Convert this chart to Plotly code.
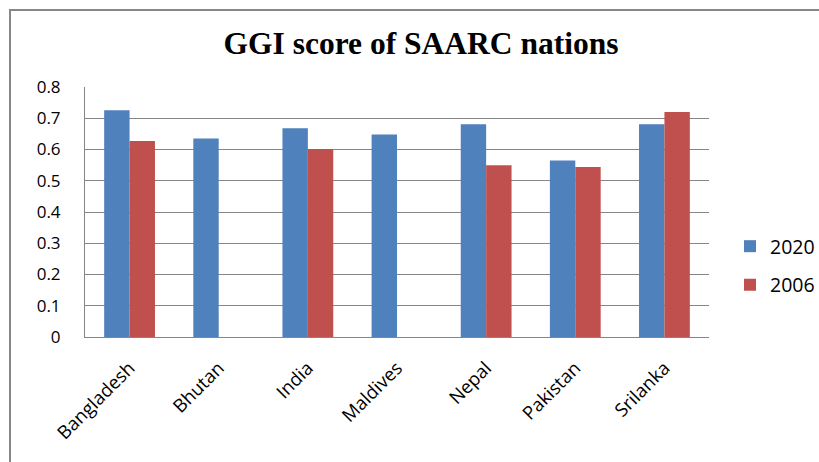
import plotly.graph_objects as go

countries = ["Bangladesh", "Bhutan", "India", "Maldives", "Nepal", "Pakistan", "Srilanka"]
score_2020 = [0.726, 0.635, 0.668, 0.648, 0.681, 0.565, 0.681]
score_2006 = [0.627, None, 0.602, None, 0.550, 0.544, 0.720]
y_ticks = [0, 0.1, 0.2, 0.3, 0.4, 0.5, 0.6, 0.7, 0.8]
y_tick_labels = ["0", "0.1", "0.2", "0.3", "0.4", "0.5", "0.6", "0.7", "0.8"]

BLUE = "#4F81BD"
RED = "#C0504D"
GRID = "#868686"
YFONT = dict(family="Open Sans", size=17, color="#000000")
XFONT = dict(family="Open Sans", size=18.5, color="#000000")
LEGFONT = dict(family="Open Sans", size=19.5, color="#000000")

fig = go.Figure()
fig.add_trace(go.Bar(x=countries, y=score_2020, name="2020", showlegend=True,
                     marker=dict(color=BLUE, line=dict(width=0)), legend="legend"))
fig.add_trace(go.Bar(x=countries, y=score_2006, name="2006", showlegend=True,
                     marker=dict(color=RED, line=dict(width=0)), legend="legend2"))

W, H = 819, 462
L, R, T, B = 85, 110, 87, 125
pw, ph = W - L - R, H - T - B

def px_x(p):
    return (p - L) / pw

def px_y(p):
    return (H - B - p) / ph

fig.update_layout(
    width=W, height=H,
    showlegend=True,
    margin=dict(l=L, r=R, t=T, b=B, autoexpand=False),
    paper_bgcolor="white", plot_bgcolor="white",
    barmode="group", bargap=0.43, bargroupgap=0,
    title=dict(text="<b>GGI score of SAARC nations</b>",
               font=dict(family="Liberation Serif", size=31.5, color="#000000"),
               x=421 / W, xanchor="center", xref="container",
               y=1 - 43 / H, yanchor="middle", yref="container"),
    legend=dict(x=px_x(730), y=px_y(246.5), xanchor="left", yanchor="middle",
                font=LEGFONT, bgcolor="rgba(0,0,0,0)", visible=True),
    legend2=dict(x=px_x(730), y=px_y(285), xanchor="left", yanchor="middle",
                 font=LEGFONT, bgcolor="rgba(0,0,0,0)", visible=True),
    xaxis=dict(showline=True, linecolor=GRID, linewidth=1, tickangle=-45,
               tickfont=XFONT, ticks="", showgrid=False, ticklabelstandoff=12,
               automargin=False),
    yaxis=dict(range=[0, 0.8], tickvals=y_ticks, ticktext=y_tick_labels,
               showline=True, linecolor=GRID, linewidth=1,
               showgrid=True, gridcolor=GRID, gridwidth=1, zeroline=False,
               tickfont=YFONT, ticks="", ticklabelstandoff=20, automargin=False),
    shapes=[dict(type="rect", xref="paper", yref="paper",
                 x0=px_x(10), y0=px_y(10), x1=px_x(900), y1=px_y(600),
                 line=dict(color="#878787", width=2), fillcolor="rgba(0,0,0,0)")],
)

fig.write_html("out.html", config={"displayModeBar": False},
               post_script="document.body.style.margin='0';document.body.style.overflow='hidden';")
